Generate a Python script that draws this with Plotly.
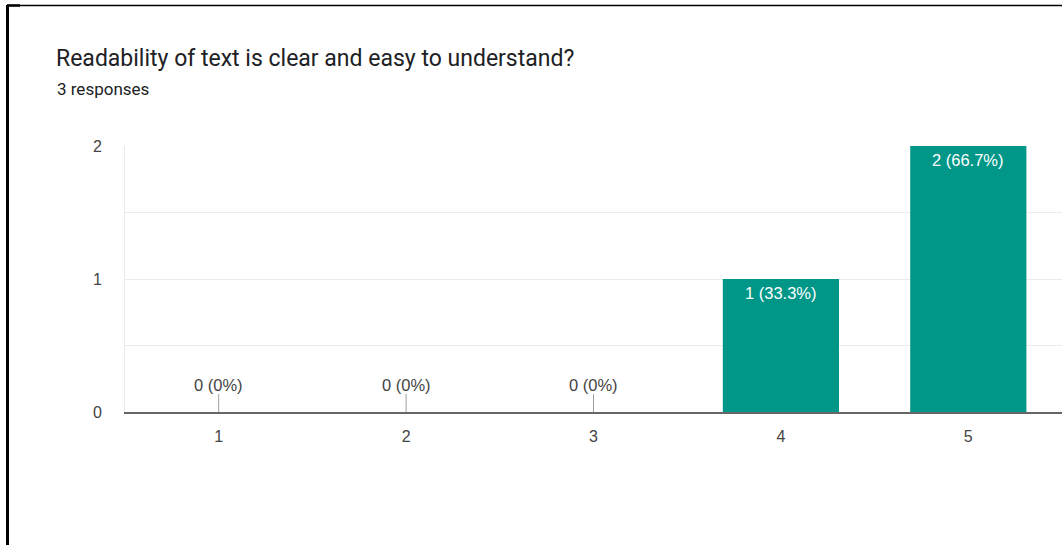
import plotly.graph_objects as go

# Survey results
question = "Readability of text is clear and easy to understand?"
categories = [1, 2, 3, 4, 5]
counts = [0, 0, 0, 1, 2]
y_ticks = [0, 1, 2]

total = sum(counts)
W, H = 1062, 545
L, R, T, B = 125, 0, 146, 133
PW = W - L - R
PH = H - T - B


def px(x):
    return (x - L) / PW


def py(y):
    return 1 - (y - T) / PH


def label(v):
    pct = v / total * 100 if total else 0
    return f"{v} ({pct:.1f}%)" if v else f"{v} ({pct:.0f}%)"


TEAL = "#009688"
GRID = "#ebebeb"
LABEL_FONT = "Liberation Sans"

fig = go.Figure()
fig.add_trace(go.Bar(
    x=categories, y=counts, width=0.62,
    marker=dict(color=TEAL, line=dict(width=0)),
    hoverinfo="skip", showlegend=False,
))

annotations = []
shapes = []
for c, v in zip(categories, counts):
    if v:
        annotations.append(dict(
            x=c, y=v, xref="x", yref="y", text=label(v), showarrow=False,
            yshift=-14, font=dict(family=LABEL_FONT, size=16.5, color="white"),
        ))
    else:
        annotations.append(dict(
            x=c, y=v, xref="x", yref="y", text=label(v), showarrow=False,
            yshift=27, font=dict(family=LABEL_FONT, size=16.5, color="#444444"),
        ))
        shapes.append(dict(
            type="line", xref="x", yref="y", x0=c, x1=c,
            ysizemode="pixel", yanchor=v, y0=0, y1=18,
            line=dict(color="#9e9e9e", width=1),
        ))

# Header text
annotations.append(dict(
    x=px(54), y=py(58), xref="paper", yref="paper", text=question,
    showarrow=False, xanchor="left", yanchor="middle",
    font=dict(family="Roboto", size=23, color="#202124"),
))
annotations.append(dict(
    x=px(55), y=py(89), xref="paper", yref="paper", text=f"{total} responses",
    showarrow=False, xanchor="left", yanchor="middle",
    font=dict(family="Roboto", size=17, color="#202124"),
))

# Frame edges around the card
shapes += [
    dict(type="line", xref="paper", yref="paper", x0=px(7.5), x1=px(7.5),
         y0=py(5), y1=py(H + 5), line=dict(color="black", width=3)),
    dict(type="line", xref="paper", yref="paper", x0=px(7), x1=px(W + 5),
         y0=py(5.5), y1=py(5.5), line=dict(color="black", width=1.5)),
    dict(type="line", xref="paper", yref="paper", x0=px(7), x1=px(20),
         y0=py(5.5), y1=py(5.5), line=dict(color="black", width=2.5)),
]

fig.update_layout(
    width=W, height=H,
    margin=dict(l=L, r=R, t=T, b=B, pad=0),
    paper_bgcolor="white", plot_bgcolor="white",
    bargap=0.38,
    annotations=annotations, shapes=shapes,
    xaxis=dict(
        range=[0.5, 5.5], tickvals=categories, ticktext=[str(c) for c in categories],
        showgrid=False, zeroline=False,
        showline=True, linecolor="#666666", linewidth=2,
        ticks="", ticklabelstandoff=9,
        tickfont=dict(family=LABEL_FONT, size=16, color="#444444"),
    ),
    yaxis=dict(
        range=[0, 2], tickvals=y_ticks, showgrid=True, gridcolor=GRID, gridwidth=1,
        minor=dict(dtick=0.5, showgrid=True, gridcolor=GRID, gridwidth=1),
        zeroline=False, showline=True, linecolor=GRID, linewidth=1,
        ticks="", ticklabelstandoff=19,
        tickfont=dict(family=LABEL_FONT, size=16, color="#444444"),
    ),
)

fig.write_html("out.html")
